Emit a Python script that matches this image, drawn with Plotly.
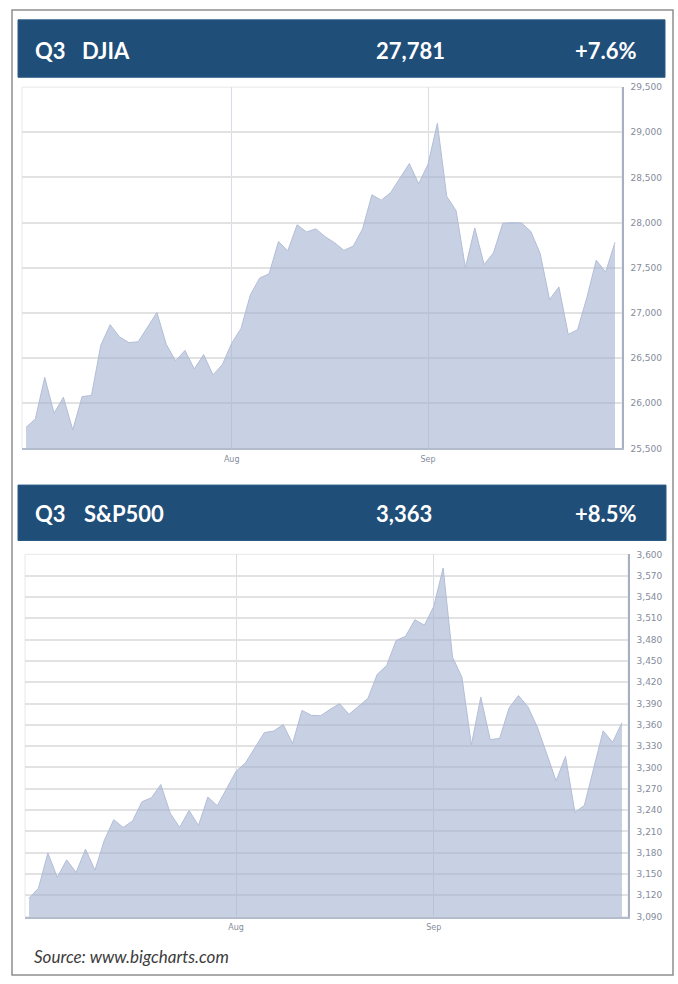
import plotly.graph_objects as go

W, H = 678, 984

# ---- data -------------------------------------------------------------
jul_days = [1, 2, 6, 7, 8, 9, 10, 13, 14, 15, 16, 17, 20, 21, 22, 23, 24, 27, 28, 29, 30, 31]
aug_days = [3, 4, 5, 6, 7, 10, 11, 12, 13, 14, 17, 18, 19, 20, 21, 24, 25, 26, 27, 28, 31]
sep_days = [1, 2, 3, 4, 8, 9, 10, 11, 14, 15, 16, 17, 18, 21, 22, 23, 24, 25, 28, 29, 30]
dates = ([f"2020-07-{d:02d}" for d in jul_days]
         + [f"2020-08-{d:02d}" for d in aug_days]
         + [f"2020-09-{d:02d}" for d in sep_days])

djia = [25734, 25827, 26287, 25890, 26067, 25706, 26075, 26086, 26643, 26870, 26735,
        26672, 26681, 26840, 27005, 26653, 26470, 26585, 26380, 26540, 26314, 26428,
        26665, 26828, 27202, 27387, 27433, 27791, 27687, 27977, 27897, 27931, 27844,
        27778, 27693, 27740, 27930, 28308, 28249, 28332, 28493, 28654, 28430,
        28646, 29100, 28292, 28133, 27501, 27940, 27535, 27666, 27993, 28000, 27996,
        27902, 27657, 27148, 27288, 26763, 26815, 27174, 27584, 27452, 27782]

spx = [3115.86, 3130.01, 3179.72, 3145.32, 3169.94, 3152.05, 3185.04, 3155.22, 3197.52,
       3226.56, 3215.57, 3224.73, 3251.84, 3257.30, 3276.02, 3235.66, 3215.63, 3239.41,
       3218.44, 3258.44, 3246.22, 3271.12,
       3294.61, 3306.51, 3327.77, 3349.16, 3351.28, 3360.47, 3333.69, 3380.35, 3373.43,
       3372.85, 3381.99, 3389.78, 3374.85, 3385.51, 3397.16, 3431.28, 3443.62, 3478.73,
       3484.55, 3508.01, 3500.31,
       3526.65, 3580.84, 3455.06, 3426.96, 3331.84, 3398.96, 3339.19, 3340.97, 3383.54,
       3401.20, 3385.49, 3357.01, 3319.47, 3281.06, 3315.57, 3236.92, 3246.59, 3298.46,
       3351.60, 3335.47, 3363.00]

djia_ticks = list(range(25500, 29501, 500))
spx_ticks = list(range(3090, 3601, 30))
month_ticks = ["2020-08-03", "2020-09-01"]
month_labels = ["Aug", "Sep"]

panel_quarter = ["Q3", "Q3"]
panel_names = ["DJIA", "S&P500"]
panel_closes = ["27,781", "3,363"]
panel_changes = ["+7.6%", "+8.5%"]
source_text = "Source: www.bigcharts.com"

# ---- helpers ----------------------------------------------------------
def fx(px):
    return px / W

def fy(py):
    return 1 - py / H

FILL = "rgba(160,175,207,0.58)"
GRID = "#e2e2e2"
TICKFONT = dict(family="DejaVu Sans", size=9, color="#858c9b")
NAVY = "#1f4e79"

fig = go.Figure()
fig.add_trace(go.Scatter(x=dates, y=djia, mode="lines", fill="tozeroy",
                         fillcolor=FILL, line=dict(color="rgba(178,189,214,1)", width=1),
                         xaxis="x", yaxis="y", hoverinfo="skip"))
fig.add_trace(go.Scatter(x=dates, y=spx, mode="lines", fill="tozeroy",
                         fillcolor=FILL, line=dict(color="rgba(178,189,214,1)", width=1),
                         xaxis="x2", yaxis="y2", hoverinfo="skip"))

xcommon = dict(type="category", tickvals=month_ticks, ticktext=month_labels,
               showgrid=True, gridcolor="#d9dde6", gridwidth=1, ticks="",
               showline=True, linecolor="#b3bccd", linewidth=2,
               tickfont=dict(family="DejaVu Sans", size=8, color="#858c9b"),
               ticklabelstandoff=2, zeroline=False, fixedrange=True)
ycommon = dict(side="right", showgrid=True, gridcolor=GRID, gridwidth=1.5,
               ticks="", showline=True, linecolor="#a7b0c2", linewidth=1.5,
               tickformat=",d", tickfont=TICKFONT, zeroline=False,
               ticklabelstandoff=5, fixedrange=True)

fig.update_layout(
    width=W, height=H,
    margin=dict(l=0, r=0, t=0, b=0),
    paper_bgcolor="white", plot_bgcolor="white",
    showlegend=False,
    xaxis=dict(xcommon, domain=[fx(22), fx(622)], range=[-0.43, 63.75], anchor="y"),
    yaxis=dict(ycommon, domain=[fy(448), fy(83)], range=[25500, 29500],
               tickvals=djia_ticks, anchor="x"),
    xaxis2=dict(xcommon, domain=[fx(25), fx(628)], range=[-0.43, 63.64], anchor="y2"),
    yaxis2=dict(ycommon, domain=[fy(921), fy(555)], range=[3090, 3600],
                tickvals=spx_ticks, anchor="x2"),
)

shapes = []
# outer frame
shapes.append(dict(type="rect", xref="paper", yref="paper",
                   x0=fx(12), x1=fx(673), y0=fy(980), y1=fy(5),
                   line=dict(color="#8f8f8f", width=1.5), fillcolor="rgba(0,0,0,0)",
                   layer="below"))
# faint plot-area frames
for xr, yr in (("x", "y"), ("x2", "y2")):
    shapes.append(dict(type="rect", xref=f"{xr} domain", yref=f"{yr} domain",
                       x0=0, x1=1, y0=0, y1=1,
                       line=dict(color="#e8e8e8", width=1), layer="below"))
# header bars
header_boxes = [(18, 665, 15, 73), (18, 666, 485, 541)]
for (x0, x1, y0, y1) in header_boxes:
    shapes.append(dict(type="rect", xref="paper", yref="paper",
                       x0=fx(x0), x1=fx(x1), y0=fy(y1), y1=fy(y0),
                       fillcolor=NAVY, line=dict(color="#2a5a86", width=1)))
fig.update_layout(shapes=shapes)

HFONT = dict(family="Lato", size=22, color="white", weight=700)
ann = []
header_text_y = [46, 514]
for i in range(2):
    yy = fy(header_text_y[i])
    ann.append(dict(x=fx(33), y=yy, xref="paper", yref="paper", text=panel_quarter[i],
                    showarrow=False, xanchor="left", yanchor="middle", font=HFONT))
    ann.append(dict(x=fx(80 if i == 0 else 82), y=yy, xref="paper", yref="paper",
                    text=panel_names[i], showarrow=False, xanchor="left",
                    yanchor="middle", font=HFONT))
    ann.append(dict(x=fx(374), y=yy, xref="paper", yref="paper", text=panel_closes[i],
                    showarrow=False, xanchor="left", yanchor="middle", font=HFONT))
    ann.append(dict(x=fx(639), y=yy, xref="paper", yref="paper", text=panel_changes[i],
                    showarrow=False, xanchor="right", yanchor="middle", font=HFONT))
ann.append(dict(x=fx(32), y=fy(961), xref="paper", yref="paper", text=source_text,
                showarrow=False, xanchor="left", yanchor="middle",
                font=dict(family="Lato", size=17, color="#3c3c3c", style="italic")))
fig.update_layout(annotations=ann)

fig.write_html("out.html", config={"displayModeBar": False},
               post_script="document.body.style.margin='0';"
                           "document.body.style.overflow='hidden';")
